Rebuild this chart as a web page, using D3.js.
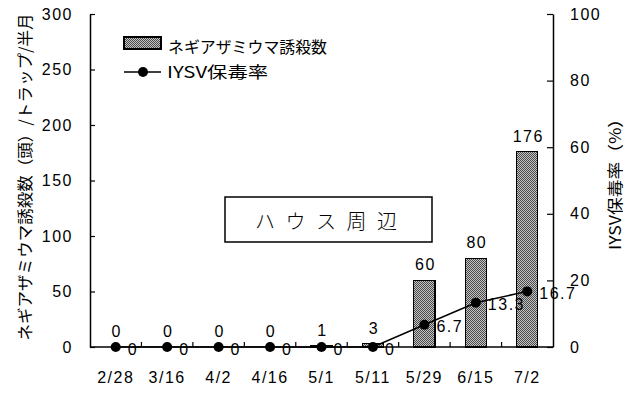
<!DOCTYPE html>
<html>
<head>
<meta charset="utf-8">
<script src="https://cdn.jsdelivr.net/npm/d3@7"></script>
<style>
  html, body { margin: 0; padding: 0; background: #fff; }
  svg { display: block; }
  .num { font-family: "Liberation Sans", Arial, sans-serif; font-size: 16px; letter-spacing: 1.5px; fill: #000; }
  .jp { font-family: "Noto Sans CJK JP", sans-serif; fill: #000; }
</style>
</head>
<body>
<svg id="chart" width="632" height="394"></svg>
<script>
// Survey dates (half-month trap periods)
const categories = ["2/28", "3/16", "4/2", "4/16", "5/1", "5/11", "5/29", "6/15", "7/2"];
// Thrips caught per trap per half month
const thripsCounts = [0, 0, 0, 0, 1, 3, 60, 80, 176];
// IYSV carrier rate (%)
const iysvRates = [0, 0, 0, 0, 0, 0, 6.7, 13.3, 16.7];
// Axis ticks
const leftTicks = [0, 50, 100, 150, 200, 250, 300];
const rightTicks = [0, 20, 40, 60, 80, 100];

const svg = d3.select("#chart");
const plot = { left: 90, right: 553, top: 14, bottom: 347 };

// Checkered fill for the bars
const defs = svg.append("defs");
const pat = defs.append("pattern")
  .attr("id", "checker").attr("patternUnits", "userSpaceOnUse")
  .attr("width", 2).attr("height", 2);
pat.append("rect").attr("width", 2).attr("height", 2).attr("fill", "#c4c4c4");
pat.append("rect").attr("x", 0).attr("y", 0).attr("width", 1).attr("height", 1).attr("fill", "#4a4a4a");
pat.append("rect").attr("x", 1).attr("y", 1).attr("width", 1).attr("height", 1).attr("fill", "#4a4a4a");

const x = d3.scaleBand().domain(categories).range([plot.left, plot.right])
  .paddingInner(0.59).paddingOuter(0.295);
const yL = d3.scaleLinear().domain([0, 300]).range([plot.bottom, plot.top]);
const yR = d3.scaleLinear().domain([0, 100]).range([plot.bottom, plot.top]);
const cx = c => x(c) + x.bandwidth() / 2;

// Bars
svg.append("g").selectAll("rect").data(categories).join("rect")
  .attr("x", c => x(c))
  .attr("y", (c, i) => yL(thripsCounts[i]))
  .attr("width", x.bandwidth())
  .attr("height", (c, i) => plot.bottom - yL(thripsCounts[i]))
  .attr("fill", "url(#checker)")
  .attr("stroke", "#000").attr("stroke-width", 1.2)
  .attr("shape-rendering", "crispEdges");

// Left axis
const gL = svg.append("g").attr("transform", `translate(${plot.left},0)`)
  .call(d3.axisLeft(yL).tickValues(leftTicks).tickSizeInner(-5).tickSizeOuter(0).tickPadding(17));
// Right axis
const gR = svg.append("g").attr("transform", `translate(${plot.right},0)`)
  .call(d3.axisRight(yR).tickValues(rightTicks).tickSizeInner(-6).tickSizeOuter(0).tickPadding(17));
// Bottom axis (labels)
const gB = svg.append("g").attr("transform", `translate(0,${plot.bottom})`)
  .call(d3.axisBottom(x).tickSize(0).tickPadding(25));

[gL, gR, gB].forEach(g => {
  g.select(".domain").attr("stroke", "#000").attr("stroke-width", 1.5);
  g.selectAll(".tick line").attr("stroke", "#000").attr("stroke-width", 1.2);
  g.selectAll("text").attr("class", "num").attr("font-family", null).attr("font-size", null);
});
gB.select(".domain").remove();
svg.append("line")
  .attr("x1", plot.left).attr("x2", plot.right)
  .attr("y1", plot.bottom).attr("y2", plot.bottom)
  .attr("stroke", "#000").attr("stroke-width", 1.5);

// Category boundary ticks on the bottom axis
const gap = (x.step() - x.bandwidth()) / 2;
svg.append("g").selectAll("line").data(categories.slice(1)).join("line")
  .attr("x1", c => x(c) - gap).attr("x2", c => x(c) - gap)
  .attr("y1", plot.bottom).attr("y2", plot.bottom - 5)
  .attr("stroke", "#000").attr("stroke-width", 1.2);

// Carrier-rate line
const line = d3.line().x((d, i) => cx(categories[i])).y(d => yR(d));
svg.append("path").datum(iysvRates).attr("d", line)
  .attr("fill", "none").attr("stroke", "#000").attr("stroke-width", 1.5);
svg.append("g").selectAll("circle").data(iysvRates).join("circle")
  .attr("cx", (d, i) => cx(categories[i])).attr("cy", d => yR(d))
  .attr("r", 5).attr("fill", "#000");

// Bar value labels
svg.append("g").selectAll("text").data(thripsCounts).join("text")
  .attr("class", "num")
  .attr("x", (d, i) => cx(categories[i]) + 1)
  .attr("y", d => yL(d) - 10)
  .attr("text-anchor", "middle")
  .text(d => d);

// Carrier-rate labels
svg.append("g").selectAll("text").data(iysvRates).join("text")
  .attr("class", "num")
  .attr("x", (d, i) => cx(categories[i]) + 12)
  .attr("y", d => yR(d) + 2)
  .attr("dominant-baseline", "central")
  .text(d => d);

// Legend
svg.append("rect").attr("x", 124).attr("y", 37).attr("width", 37).attr("height", 12)
  .attr("fill", "url(#checker)").attr("stroke", "#000").attr("stroke-width", 1.2)
  .attr("shape-rendering", "crispEdges");
svg.append("text").attr("class", "jp").attr("x", 168).attr("y", 46)
  .attr("dominant-baseline", "central").attr("font-size", 16)
  .attr("textLength", 159).attr("lengthAdjust", "spacingAndGlyphs")
  .text("ネギアザミウマ誘殺数");
svg.append("line").attr("x1", 124).attr("x2", 161).attr("y1", 72).attr("y2", 72)
  .attr("stroke", "#000").attr("stroke-width", 1.5);
svg.append("circle").attr("cx", 143).attr("cy", 72).attr("r", 5).attr("fill", "#000");
svg.append("text").attr("class", "jp").attr("x", 167).attr("y", 71)
  .attr("dominant-baseline", "central").attr("font-size", 16)
  .attr("textLength", 101).attr("lengthAdjust", "spacingAndGlyphs")
  .text("IYSV保毒率");

// Site label box
svg.append("rect").attr("x", 225).attr("y", 197).attr("width", 207).attr("height", 45)
  .attr("fill", "#fff").attr("stroke", "#000").attr("stroke-width", 1.5);
svg.append("text").attr("class", "jp").attr("x", 326).attr("y", 220)
  .attr("text-anchor", "middle").attr("dominant-baseline", "central")
  .attr("font-size", 20).attr("font-weight", 300)
  .attr("textLength", 142).attr("lengthAdjust", "spacing")
  .text("ハウス周辺");

// Axis titles
svg.append("text").attr("class", "jp")
  .attr("transform", "translate(24,177) rotate(-90)")
  .attr("text-anchor", "middle").attr("dominant-baseline", "central")
  .attr("font-size", 16)
  .attr("textLength", 327).attr("lengthAdjust", "spacingAndGlyphs")
  .text("ネギアザミウマ誘殺数（頭）/トラップ/半月");
svg.append("text").attr("class", "jp")
  .attr("transform", "translate(614,180) rotate(-90)")
  .attr("text-anchor", "middle").attr("dominant-baseline", "central")
  .attr("font-size", 16)
  .attr("textLength", 140).attr("lengthAdjust", "spacingAndGlyphs")
  .text("IYSV保毒率（%）");
</script>
</body>
</html>
